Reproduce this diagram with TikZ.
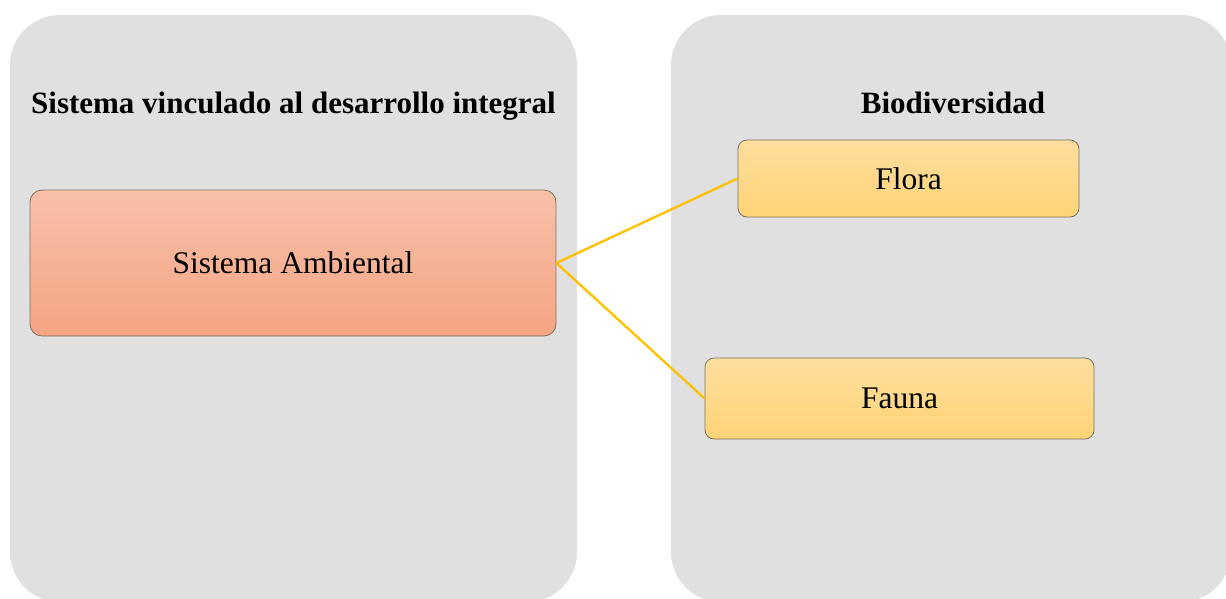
\documentclass[tikz,border=0pt]{standalone}
\usepackage{fontspec}
\setmainfont{Liberation Serif}
\definecolor{panelgray}{HTML}{E0E0E0}
\definecolor{salmontop}{HTML}{F8C0A8}
\definecolor{salmonbot}{HTML}{F4A483}
\definecolor{goldtop}{HTML}{FFDE9E}
\definecolor{goldbot}{HTML}{FFD477}
\definecolor{linkgold}{HTML}{FFC000}
\definecolor{boxedge}{HTML}{7A705F}
\begin{document}
\begin{tikzpicture}[x=1pt,y=-1pt,
  panel/.style={fill=panelgray,draw=none,rounded corners=50pt},
  heading/.style={font=\fontsize{31}{38}\selectfont\bfseries,anchor=base,inner sep=0pt},
  salmonbox/.style={draw=boxedge,line width=0.8pt,rounded corners=12pt,top color=salmontop,bottom color=salmonbot,
    inner sep=0pt,font=\fontsize{31.5}{38}\selectfont},
  goldbox/.style={draw=boxedge,line width=0.8pt,rounded corners=9pt,top color=goldtop,bottom color=goldbot,
    inner sep=0pt,font=\fontsize{31.5}{38}\selectfont},
  link/.style={draw=linkgold,line width=2.3pt}]
\useasboundingbox (0,0) rectangle (1226,598);
\clip (0,0) rectangle (1226,598);
% background panels
\fill[panel] (10,15) rectangle (577,602);
\fill[panel] (671,15) rectangle (1231,602);
% panel titles
\node[heading] (t1) at (293.5,113) {Sistema vinculado al desarrollo integral};
\node[heading] (t2) at (953,113) {Biodiversidad};
% boxes
\node[salmonbox,minimum width=526pt,minimum height=146pt] (sa) at (293,263) {Sistema Ambiental};
\node[goldbox,minimum width=341pt,minimum height=77pt] (flora) at (908.5,178.5) {Flora};
\node[goldbox,minimum width=389pt,minimum height=81pt] (fauna) at (899.5,398.5) {Fauna};
% connectors
\draw[link] (sa.east) -- (flora.west);
\draw[link] (sa.east) -- (fauna.west);
\end{tikzpicture}
\end{document}
